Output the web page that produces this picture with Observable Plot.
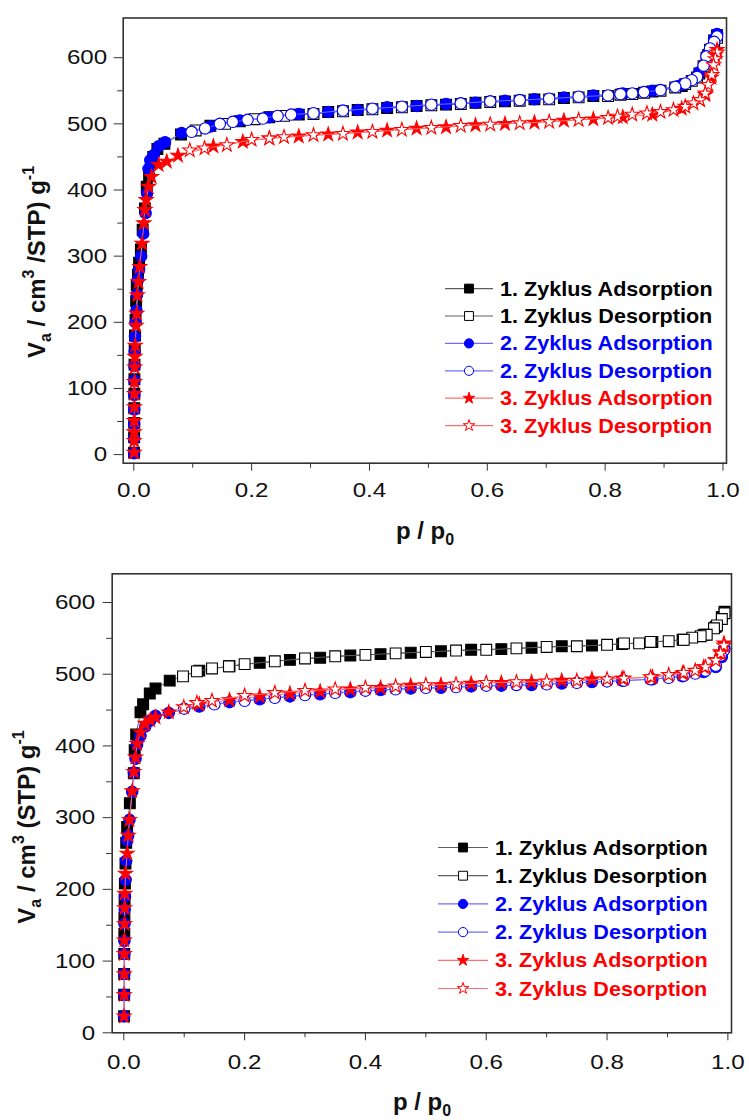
<!DOCTYPE html>
<html><head><meta charset="utf-8">
<script src="https://cdn.jsdelivr.net/npm/d3@7"></script>
<script src="https://cdn.jsdelivr.net/npm/@observablehq/plot@0.6"></script>
<style>
body{margin:0;background:#fff;}
#c svg{display:block;}
</style></head><body><div id="c"></div>
<script>
// ---------- tick values ----------
const xTicks = [0, 0.2, 0.4, 0.6, 0.8, 1.0];
const xMinor = [0.1, 0.3, 0.5, 0.7, 0.9];
const yTicks = [0, 100, 200, 300, 400, 500, 600];
const yMinor = [50, 150, 250, 350, 450, 550];

// ---------- legend / series styling ----------
const legendLabels = ["1. Zyklus Adsorption", "1. Zyklus Desorption", "2. Zyklus Adsorption",
                      "2. Zyklus Desorption", "3. Zyklus Adsorption", "3. Zyklus Desorption"];
const seriesColors = ["#000000", "#000000", "#0000ff", "#0000ff", "#ff0000", "#ff0000"];
const lineColors = ["#606060", "#606060", "#6f6fff", "#6f6fff", "#ff6f6f", "#ff6f6f"];
const seriesSymbols = ["square", "square", "circle", "circle", "star", "star"];
const seriesFilled = [true, false, true, false, true, false];

// ---------- top panel data [p/p0, Va] ----------
const topAds1 = [[0.0005,3],[0.0006,26],[0.0007,48],[0.0008,70],[0.0009,92],[0.001,114],[0.0012,136],[0.0015,158],[0.002,180],[0.003,204],[0.004,232],[0.005,256],[0.007,272],[0.009,290],[0.012,310],[0.015,340],[0.019,372],[0.022,405],[0.026,422],[0.029,440],[0.033,450],[0.04,462],[0.052,470],[0.08,484],[0.13,497],[0.18,504],[0.23,510],[0.28,514],[0.33,518],[0.38,521],[0.43,524],[0.48,527],[0.53,529],[0.58,532],[0.63,534],[0.68,537],[0.73,539],[0.78,542],[0.83,545],[0.88,549],[0.93,557],[0.96,576],[0.975,604],[0.985,626],[0.99,634]];
const topDes1 = [[0.99,630],[0.985,622],[0.978,612],[0.972,600],[0.967,587],[0.956,570],[0.947,565],[0.936,560],[0.919,555],[0.894,550],[0.866,547],[0.846,545],[0.826,544],[0.805,542],[0.755,540],[0.705,537],[0.655,535],[0.605,533],[0.555,530],[0.505,528],[0.455,525],[0.405,522],[0.355,519],[0.305,515],[0.255,512],[0.205,507],[0.155,500],[0.105,490]];
const topAds2 = [[0.0005,2],[0.0006,24],[0.0007,46],[0.0008,68],[0.0009,90],[0.001,112],[0.0012,134],[0.0015,156],[0.002,178],[0.003,200],[0.0045,218],[0.0055,242],[0.007,264],[0.009,280],[0.0125,300],[0.016,334],[0.02,365],[0.0225,395],[0.025,432],[0.028,445],[0.034,453],[0.042,466],[0.053,472],[0.081,486],[0.13,496],[0.18,505],[0.23,510],[0.28,515],[0.33,518],[0.38,521],[0.43,525],[0.48,527],[0.53,530],[0.58,532],[0.63,535],[0.68,537],[0.73,540],[0.78,543],[0.83,546],[0.88,550],[0.93,559],[0.96,578],[0.975,606],[0.985,628],[0.99,636]];
const topDes2 = [[0.99,632],[0.985,624],[0.978,614],[0.972,602],[0.967,588],[0.956,571],[0.947,566],[0.936,561],[0.919,556],[0.894,551],[0.866,548],[0.846,546],[0.826,545],[0.805,543],[0.755,541],[0.705,538],[0.655,536],[0.605,534],[0.555,531],[0.505,529],[0.455,526],[0.405,523],[0.355,520],[0.305,516],[0.267,514],[0.244,512],[0.219,508],[0.193,506],[0.168,503],[0.146,500],[0.121,493],[0.098,488]];
const topAds3 = [[0.0005,3],[0.0006,21],[0.0007,34],[0.0008,51],[0.0009,72],[0.001,92],[0.0012,110],[0.0015,132],[0.002,148],[0.0025,165],[0.004,195],[0.005,213],[0.006,241],[0.008,261],[0.01,284],[0.014,319],[0.017,350],[0.019,370],[0.021,385],[0.025,405],[0.03,420],[0.042,438],[0.056,443],[0.075,452],[0.135,466],[0.185,473],[0.23,478],[0.28,481],[0.33,484],[0.38,487],[0.43,490],[0.48,493],[0.53,495],[0.58,498],[0.63,500],[0.68,502],[0.73,505],[0.78,507],[0.83,510],[0.88,514],[0.93,523],[0.961,536],[0.97,544],[0.98,570],[0.987,604],[0.99,612]];
const topDes3 = [[0.99,608],[0.987,598],[0.984,589],[0.981,574],[0.975,559],[0.97,546],[0.961,536],[0.95,531],[0.936,526],[0.916,521],[0.894,518],[0.871,516],[0.846,514],[0.821,511],[0.805,509],[0.755,506],[0.705,503],[0.655,501],[0.605,499],[0.555,497],[0.505,494],[0.455,491],[0.405,488],[0.355,485],[0.305,483],[0.255,480],[0.23,478],[0.2,476],[0.158,468],[0.12,463],[0.095,460]];

// ---------- bottom panel data [p/p0, Va] ----------
const botAds1 = [[0.0005,23],[0.0006,53],[0.0007,82],[0.0008,110],[0.0009,138],[0.001,160],[0.0013,186],[0.0018,208],[0.0028,236],[0.004,265],[0.0056,287],[0.01,320],[0.0166,362],[0.018,394],[0.0205,416],[0.0276,447],[0.032,458],[0.043,473],[0.0525,480],[0.076,491],[0.125,505],[0.175,511],[0.225,516],[0.275,520],[0.325,523],[0.375,526],[0.425,528],[0.475,530],[0.525,532],[0.575,534],[0.625,535],[0.675,537],[0.725,539],[0.775,540],[0.825,542],[0.875,545],[0.925,548],[0.96,555],[0.98,566],[0.99,580],[0.9945,587]];
const botDes1 = [[0.9945,585],[0.99,577],[0.982,568],[0.977,564],[0.965,555],[0.955,553],[0.941,551],[0.927,548],[0.902,546],[0.872,545],[0.853,543],[0.828,543],[0.8,541],[0.75,539],[0.7,538],[0.65,536],[0.6,534],[0.55,533],[0.5,531],[0.45,529],[0.4,527],[0.35,525],[0.3,522],[0.25,518],[0.2,514],[0.174,511],[0.146,508],[0.121,504],[0.098,497]];
const botAds2 = [[0.0005,23],[0.0006,53],[0.0007,82],[0.0008,110],[0.001,128],[0.0012,152],[0.0015,172],[0.002,190],[0.003,213],[0.004,240],[0.0056,268],[0.0073,275],[0.0094,297],[0.0139,336],[0.0166,363],[0.0194,382],[0.022,402],[0.0276,414],[0.0355,427],[0.0436,435],[0.0525,442],[0.0745,446],[0.125,455],[0.175,461],[0.225,465],[0.275,469],[0.325,472],[0.375,475],[0.425,478],[0.475,480],[0.525,481],[0.575,483],[0.625,484],[0.675,485],[0.725,487],[0.775,489],[0.825,491],[0.875,493],[0.925,497],[0.96,503],[0.98,510],[0.99,524],[0.994,536]];
const botDes2 = [[0.994,534],[0.988,526],[0.98,512],[0.963,505],[0.946,501],[0.927,498],[0.902,495],[0.872,493],[0.828,491],[0.8,490],[0.75,488],[0.7,486],[0.65,485],[0.6,484],[0.55,482],[0.5,481],[0.45,479],[0.4,477],[0.35,474],[0.3,471],[0.25,467],[0.2,463],[0.15,458],[0.1,452]];
const botAds3 = [[0.0005,23],[0.0006,53],[0.0007,82],[0.0008,110],[0.001,129],[0.0012,152],[0.0014,174],[0.0016,194],[0.0028,222],[0.0056,250],[0.0073,275],[0.0094,297],[0.0139,337],[0.0166,364],[0.0194,384],[0.022,403],[0.0276,419],[0.0355,431],[0.0436,436],[0.0525,440],[0.0745,447],[0.125,458],[0.175,464],[0.225,469],[0.275,473],[0.325,476],[0.375,479],[0.425,481],[0.475,484],[0.525,485],[0.575,487],[0.625,488],[0.675,489],[0.725,491],[0.775,493],[0.825,494],[0.875,496],[0.925,501],[0.96,510],[0.98,520],[0.988,531],[0.9935,543]];
const botDes3 = [[0.9935,540],[0.988,529],[0.98,519],[0.963,510],[0.946,505],[0.927,502],[0.902,499],[0.872,496],[0.828,494],[0.8,493],[0.75,491],[0.7,490],[0.65,489],[0.6,488],[0.55,486],[0.5,485],[0.45,483],[0.4,481],[0.35,479],[0.3,477],[0.25,474],[0.2,470],[0.146,463],[0.121,460],[0.0993,454]];

const topSeries = [topAds1, topDes1, topAds2, topDes2, topAds3, topDes3];
const botSeries = [botAds1, botDes1, botAds2, botDes2, botAds3, botDes3];

const FONT = "'Liberation Sans', Arial, sans-serif";
const symR = {square: 6.1, circle: 5.7, star: 4.4};
const legR = {square: 5.0, circle: 4.6, star: 3.6};
const d3Sym = {square: d3.symbolSquare, circle: d3.symbolCircle, star: d3.symbolStar};
const SVGNS = "http://www.w3.org/2000/svg";

function makePanel(cfg) {
  const marks = [];
  cfg.series.forEach((s, i) => {
    const data = s.map(([x, y]) => ({x, y}));
    marks.push(Plot.line(data, {x: "x", y: "y", stroke: lineColors[i], strokeWidth: 1}));
    marks.push(Plot.dot(data, {x: "x", y: "y", symbol: () => seriesSymbols[i], r: symR[seriesSymbols[i]],
      fill: seriesFilled[i] ? seriesColors[i] : "#ffffff", stroke: seriesColors[i], strokeWidth: 1.1}));
  });
  marks.push(Plot.axisX(xMinor, {tickSize: 5, tickFormat: () => "", label: null, stroke: "#333"}));
  marks.push(Plot.axisX(xTicks, {tickSize: 8, tickPadding: cfg.xPad, tickFormat: d => d.toFixed(1), label: null,
    stroke: "#333", fontSize: 21, fill: "#111"}));
  marks.push(Plot.axisY(yMinor, {tickSize: 5.5, tickFormat: () => "", label: null, stroke: "#333"}));
  marks.push(Plot.axisY(yTicks, {tickSize: 9, tickPadding: cfg.yPad, tickFormat: d => String(d), label: null,
    stroke: "#333", fontSize: 21, fill: "#111"}));
  marks.push(Plot.frame({stroke: "#333", strokeWidth: 1.6}));

  const svg = Plot.plot({
    width: 749, height: 560,
    marginLeft: cfg.mL, marginRight: cfg.mR, marginTop: cfg.mT, marginBottom: cfg.mB,
    x: {domain: cfg.xDomain},
    y: {domain: cfg.yDomain},
    style: {fontFamily: FONT, background: "#fff", overflow: "visible"},
    marks
  });
  document.getElementById("c").appendChild(svg);
  const root = d3.select(svg);

  // stretch the numeric tick labels horizontally (the original is slightly widened)
  root.selectAll("text").each(function() {
    const t = this;
    const s = t.textContent;
    if (!/^[0-9.]+$/.test(s)) return;
    const parent = t.parentNode;
    const g = document.createElementNS(SVGNS, "g");
    parent.insertBefore(g, t);
    g.appendChild(t);
    const b = g.getBBox();
    const anchorRight = s.indexOf(".") < 0; // y labels are integers (right aligned)
    const cx = anchorRight ? b.x + b.width : b.x + b.width / 2;
    g.setAttribute("transform", `translate(${cx},0) scale(1.15,1) translate(${-cx},0)`);
  });

  // y-axis title
  const yt = root.append("text")
    .attr("transform", `translate(${cfg.yTitleX},${cfg.yTitleY}) rotate(-90)`)
    .attr("text-anchor", "middle").attr("font-family", FONT).attr("font-weight", "bold")
    .attr("font-size", 24).attr("fill", "#111");
  cfg.yTitle.forEach(([str, kind]) => {
    const ts = yt.append("tspan").text(str);
    if (kind === "sub") ts.attr("font-size", 16).attr("dy", 6);
    if (kind === "sup") ts.attr("font-size", 16).attr("dy", -11);
    if (kind === "back") ts.attr("dy", -6);
    if (kind === "down") ts.attr("dy", 11);
  });

  // x-axis title
  const xt = root.append("text")
    .attr("x", cfg.xTitleX).attr("y", cfg.xTitleY)
    .attr("text-anchor", "middle").attr("font-family", FONT).attr("font-weight", "bold")
    .attr("font-size", 24).attr("fill", "#111");
  xt.append("tspan").text("p / p");
  xt.append("tspan").text("0").attr("font-size", 16).attr("dy", 6);

  // legend
  const lg = root.append("g");
  legendLabels.forEach((lab, i) => {
    const y = cfg.leg.y0 + i * cfg.leg.dy;
    lg.append("line").attr("x1", cfg.leg.x1).attr("x2", cfg.leg.x2).attr("y1", y).attr("y2", y)
      .attr("stroke", lineColors[i]).attr("stroke-width", 1.2);
    const sym = seriesSymbols[i];
    const r = legR[sym];
    lg.append("path").attr("d", d3.symbol(d3Sym[sym], Math.PI * r * r)())
      .attr("transform", `translate(${cfg.leg.mx},${y})`)
      .attr("fill", seriesFilled[i] ? seriesColors[i] : "#fff")
      .attr("stroke", seriesColors[i]).attr("stroke-width", 1);
    lg.append("text").text(lab)
      .attr("transform", `translate(${cfg.leg.tx},${y + 7}) scale(1.08,1)`)
      .attr("text-anchor", "start")
      .attr("font-family", FONT).attr("font-weight", "bold").attr("font-size", 20)
      .attr("fill", seriesColors[i]);
  });
}

makePanel({
  series: topSeries,
  mL: 122.7, mR: 23, mT: 17.5, mB: 97.3,
  xDomain: [-0.018, 1.006], yDomain: [-13, 660],
  xPad: 11, yPad: 7,
  yTitleX: 45, yTitleY: 262,
  yTitle: [["V"], ["a", "sub"], [" / cm", "back"], ["3", "sup"], [" /STP) g", "down"], ["-1", "sup"]],
  xTitleX: 425, xTitleY: 539,
  leg: {y0: 288.6, dy: 27.4, x1: 445, x2: 493, mx: 469, tx: 500}
});

makePanel({
  series: botSeries,
  mL: 111.7, mR: 18, mT: 13.3, mB: 87.7,
  xDomain: [-0.0192, 1.006], yDomain: [0, 640],
  xPad: 13, yPad: 8,
  yTitleX: 35, yTitleY: 267,
  yTitle: [["V"], ["a", "sub"], [" / cm", "back"], ["3", "sup"], [" (STP) g", "down"], ["-1", "sup"]],
  xTitleX: 422, xTitleY: 550,
  leg: {y0: 287.5, dy: 28.2, x1: 438, x2: 488, mx: 463, tx: 495}
});
</script>
</body></html>
